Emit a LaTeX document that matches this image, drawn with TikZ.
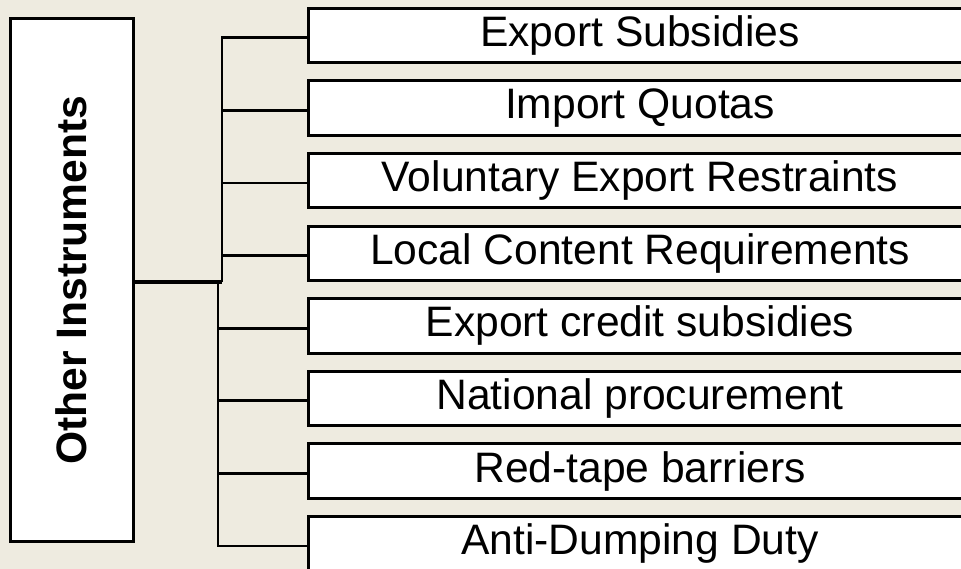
\documentclass[tikz,border=0pt]{standalone}
\usepackage{fontspec}
\setmainfont{Liberation Sans}
\definecolor{bg}{RGB}{238,235,224}
\begin{document}
\begin{tikzpicture}[x=1pt,y=-1pt,
  mainbox/.style={draw=black,fill=white,line width=3pt,outer sep=0pt,inner sep=0pt,
    minimum width=122.5pt,minimum height=522.5pt,font=\fontsize{42.6}{48}\selectfont\bfseries},
  itembox/.style={draw=black,fill=white,line width=3pt,outer sep=0pt,inner sep=0pt,
    anchor=north west,minimum width=664pt,minimum height=54.5pt,font=\fontsize{42.6}{48}\selectfont},
  conn/.style={draw=black,line width=2.7pt}]
\clip (0,0) rectangle (961,569);
\fill[bg] (0,0) rectangle (961,569);
\node[mainbox] (main) at (71.75,280.25) {\rotatebox{90}{Other Instruments}};
\foreach \t [count=\i from 0] in {Export Subsidies,Import Quotas,Voluntary Export Restraints,Local Content Requirements,Export credit subsidies,National procurement,Red-tape barriers,Anti-Dumping Duty}{
  \node[itembox] (b\i) at (308,8.3+72.6*\i) {\t};
  \coordinate (c\i) at ([yshift=-2.2pt]b\i.west);
}
\coordinate (up) at (222,282);
\coordinate (lo) at (218,282);
\draw[conn,line width=3.2pt] (main.east |- up) -- (up);
\draw[conn] (c0) -- (c0 -| up) -- (up);
\draw[conn] (lo) -- (c7 -| lo) -- (c7);
\foreach \i in {1,2,3}{\draw[conn] (c\i -| up) -- (c\i);}
\foreach \i in {4,5,6}{\draw[conn] (c\i -| lo) -- (c\i);}
\end{tikzpicture}
\end{document}
